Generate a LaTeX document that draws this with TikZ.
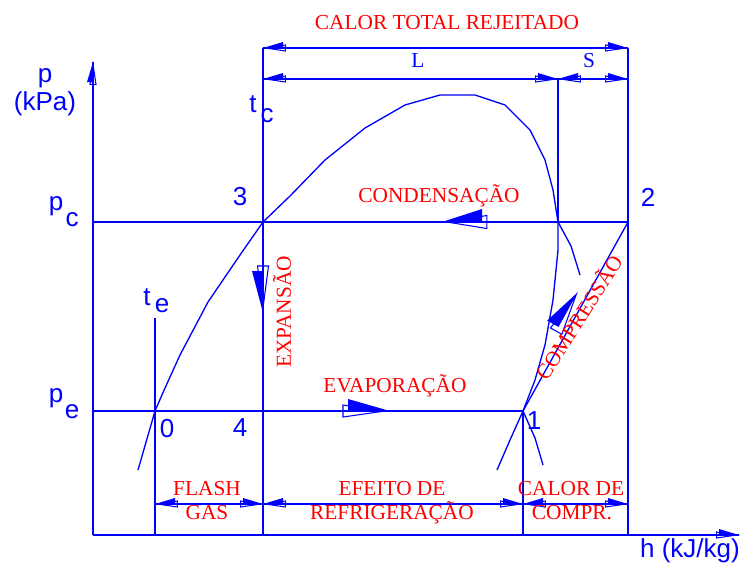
\documentclass[tikz,border=0pt]{standalone}
\usepackage{fontspec}
\setmainfont{Liberation Serif}
\newfontfamily\lsans{Liberation Sans}
\begin{document}
\begin{tikzpicture}[x=0.75pt,y=-0.75pt,
  ln/.style={draw=blue, line width=1pt},
  rt/.style={text=red, font=\fontsize{16}{18}\selectfont, inner sep=0pt},
  bl/.style={text=blue, font=\lsans\fontsize{19.5}{22}\selectfont, inner sep=0pt},
  pics/cad/.style 2 args={code={
    \fill[blue] (0,0) -- (-#1,-#2) -- (-#1,0) -- cycle;
    \draw[blue, line width=0.8pt] (-0.12*#1,0) -- (-1.12*#1,-0.5*#2) -- (-1.12*#1,0.5*#2) -- cycle;
  }},
  rgt/.style={rotate=0},
  lft/.style={rotate=180, yscale=-1},
  upw/.style={rotate=90},
  dnw/.style={rotate=-90, yscale=-1}
]
\path[use as bounding box] (0,0) rectangle (741,565);
% key points
\coordinate (O) at (93,535);
\coordinate (Ptop) at (93,62);
\coordinate (Hend) at (739,535);
\coordinate (PC0) at (93,222);
\coordinate (P3) at (263,222);
\coordinate (P2) at (628,222);
\coordinate (Psv) at (558,222);
\coordinate (PE0) at (93,411);
\coordinate (P0) at (155,411);
\coordinate (P4) at (263,411);
\coordinate (P1) at (523,411);
\coordinate (T1) at (263,48);
\coordinate (T2) at (628,48);
\coordinate (L1) at (263,79);
\coordinate (Lm) at (558,79);
\coordinate (L2) at (628,79);
\coordinate (B0) at (155,535);
\coordinate (B4) at (263,535);
\coordinate (B1) at (523,535);
\coordinate (B2) at (628,535);
\coordinate (D0) at (155,504);
\coordinate (D4) at (263,504);
\coordinate (D1) at (523,504);
\coordinate (D2) at (628,504);
\coordinate (TE) at (155,318);
\coordinate (TCs) at (580,275);
\coordinate (TEs) at (543,465);

% axes and frame lines
\draw[ln] (O) -- (Ptop);
\draw[ln] (O) -- (Hend);
\draw[ln] (PC0) -- (P2);
\draw[ln] (PE0) -- (P1);
\draw[ln] (T1) -- (B4);
\draw[ln] (T2) -- (B2);
\draw[ln] (Lm) -- (Psv);
\draw[ln] (TE) -- (B0);
\draw[ln] (P1) -- (B1);
\draw[ln] (P1) -- (P2);
% dimension lines
\draw[ln] (T1) -- (T2);
\draw[ln] (L1) -- (L2);
\draw[ln] (D0) -- (D2);
% saturation dome
\draw[ln] (138,470) -- (P0) -- (165,388) -- (180,355) -- (208,302) -- (240,255) -- (P3)
  -- (290,196) -- (325,160) -- (365,128) -- (405,105) -- (440,95) -- (475,95)
  -- (505,105) -- (530,130) -- (545,160) -- (553,190) -- (Psv) -- (558,250)
  -- (553,300) -- (545,345) -- (535,380) -- (P1) -- (510,440) -- (497,470);
% superheated isotherms
\draw[ln] (Psv) -- (571,246) -- (TCs);
\draw[ln] (P1) -- (535,438) -- (TEs);

% arrowheads
\pic[upw] at (Ptop) {cad={20}{6}};
\pic[rgt] at (Hend) {cad={20}{6}};
\pic[lft] at (T1) {cad={20}{6}};
\pic[rgt] at (T2) {cad={20}{6}};
\pic[lft] at (L1) {cad={20}{6}};
\pic[rgt] at (Lm) {cad={20}{6}};
\pic[lft] at (Lm) {cad={20}{6}};
\pic[rgt] at (L2) {cad={20}{6}};
\pic[lft] at (D0) {cad={20}{6}};
\pic[rgt] at (D4) {cad={20}{6}};
\pic[lft] at (D4) {cad={20}{6}};
\pic[rgt] at (D1) {cad={20}{6}};
\pic[lft] at (D1) {cad={20}{6}};
\pic[rgt] at (D2) {cad={20}{6}};
\pic[lft] at (442,222) {cad={40}{13}};
\pic[dnw] at (263,313) {cad={42}{11}};
\pic[rgt] at (390,411) {cad={42}{12}};
\pic[rotate=60.8] at (578,292) {cad={40}{13}};

% red labels
\node[rt, anchor=base] (tcal) at (447,29) {CALOR TOTAL REJEITADO};
\node[rt, anchor=base, text=blue] (tL) at (418,67) {L};
\node[rt, anchor=base, text=blue] (tS) at (589,67) {S};
\node[rt, anchor=base] (tcond) at (439,202) {CONDENSAÇÃO};
\node[rt, anchor=base] (tevap) at (395,392) {EVAPORAÇÃO};
\node[rt, rotate=90] (texp) at (282,312) {EXPANSÃO};
\node[rt, rotate=57.5] (tcomp) at (578,317) {COMPRESSÃO};
\node[rt, anchor=base] (tfl) at (207,495) {FLASH};
\node[rt, anchor=base] (tgas) at (207,519) {GAS};
\node[rt, anchor=base] (tef) at (392,495) {EFEITO DE};
\node[rt, anchor=base] (tref) at (392,519) {REFRIGERAÇÃO};
\node[rt, anchor=base] (tcd) at (571,495) {CALOR DE};
\node[rt, anchor=base] (tcp) at (572,519) {COMPR.};

% blue labels
\node[bl] (lp) at (45,78) {p};
\node[bl] (lkpa) at (45,104) {(kPa)};
\node[bl] (lpc) at (56,206) {p};
\node[bl] (lpcs) at (72,220) {c};
\node[bl] (lpe) at (56,398) {p};
\node[bl] (lpes) at (72,412) {e};
\node[bl] (ltc) at (253,104) {t};
\node[bl] (ltcs) at (267,116) {c};
\node[bl] (lte) at (147,297) {t};
\node[bl] (ltes) at (162,306) {e};
\node[bl] (l3) at (240,197) {3};
\node[bl] (l2) at (648,197) {2};
\node[bl] (l0) at (167,429) {0};
\node[bl] (l4) at (240,428) {4};
\node[bl] (l1) at (534,421) {1};
\node[bl] (lh) at (690,551) {h (kJ/kg)};
\end{tikzpicture}
\end{document}
